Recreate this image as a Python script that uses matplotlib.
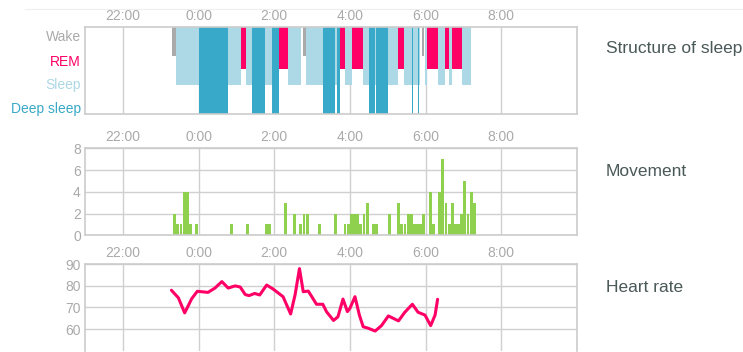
import matplotlib
matplotlib.use("Agg")
import matplotlib.pyplot as plt
from matplotlib.lines import Line2D

plt.rcParams['font.family'] = ['Liberation Sans', 'DejaVu Sans']

# time axis (hours after midnight)
hour_ticks = [-2, 0, 2, 4, 6, 8]
hour_labels = ['22:00', '0:00', '2:00', '4:00', '6:00', '8:00']

stage_names = ['Wake', 'REM', 'Sleep', 'Deep sleep']

# sleep structure segments
seg_start = ['23:18', '23:25', '0:00', '0:46', '1:07', '1:15', '1:25', '1:46', '1:57', '2:08',
             '2:22', '2:46', '2:50', '3:17', '3:37', '3:39', '3:45', '3:52', '4:03', '4:20',
             '4:31', '4:40', '4:42', '5:01', '5:16', '5:25', '5:39', '5:48', '5:55', '5:59',
             '6:02', '6:19', '6:31', '6:37', '6:42', '6:57']
seg_end = ['23:25', '0:00', '0:46', '1:07', '1:15', '1:25', '1:46', '1:57', '2:08', '2:22',
           '2:43', '2:50', '3:17', '3:37', '3:39', '3:45', '3:52', '4:03', '4:20', '4:31',
           '4:40', '4:42', '5:01', '5:16', '5:25', '5:51', '5:40', '5:49', '5:58', '6:02',
           '6:19', '6:30', '6:37', '6:42', '6:57', '7:12']
seg_stage = ['Wake', 'Sleep', 'Deep sleep', 'Sleep', 'REM', 'Sleep', 'Deep sleep', 'Sleep', 'Deep sleep', 'REM',
             'Sleep', 'Wake', 'Sleep', 'Deep sleep', 'Sleep', 'Deep sleep', 'REM', 'Sleep', 'REM', 'Sleep',
             'Deep sleep', 'Sleep', 'Deep sleep', 'Sleep', 'REM', 'Sleep', 'Deep sleep', 'Deep sleep', 'Wake', 'Sleep',
             'REM', 'Sleep', 'REM', 'Sleep', 'REM', 'Sleep']

# movement, 5 minute bins
move_times = ['23:20', '23:25', '23:30', '23:35', '23:40', '23:45', '23:55', '0:50', '1:15', '1:45',
              '1:50', '2:15', '2:30', '2:40', '2:45', '2:50', '3:10', '3:35', '3:50', '3:55',
              '4:00', '4:05', '4:10', '4:15', '4:20', '4:25', '4:35', '4:40', '5:00', '5:15',
              '5:20', '5:25', '5:30', '5:35', '5:40', '5:45', '5:50', '5:55', '6:05', '6:10',
              '6:20', '6:25', '6:30', '6:35', '6:40', '6:45', '6:50', '6:55', '7:00', '7:05',
              '7:10', '7:15']
move_values = [2, 1, 1, 4, 4, 1, 1, 1, 1, 1,
               1, 3, 2, 1, 2, 2, 1, 2, 1, 1,
               2, 2, 2, 1, 2, 3, 1, 1, 2, 3,
               1, 1, 2, 2, 1, 1, 1, 2, 4, 1,
               4, 7, 3, 1, 3, 1, 1, 2, 5, 2,
               4, 3]
move_ticks = [0, 2, 4, 6, 8]

# heart rate
hr_times = ['23:17', '23:28', '23:38', '23:44', '23:49', '23:58', '0:15', '0:26', '0:37', '0:47',
            '0:58', '1:06', '1:14', '1:20', '1:29', '1:37', '1:48', '1:58', '2:14', '2:26',
            '2:33', '2:40', '2:46', '2:54', '3:07', '3:17', '3:23', '3:34', '3:41', '3:49',
            '3:56', '4:00', '4:08', '4:15', '4:21', '4:29', '4:40', '4:50', '5:01', '5:17',
            '5:27', '5:39', '5:48', '5:59', '6:08', '6:15', '6:19']
hr_values = [78, 74.5, 67.5, 71, 74, 77.5, 77, 79, 82, 79,
             80, 79.5, 76, 75.5, 76.5, 75.8, 80.4, 78.6, 75, 67,
             75.8, 88, 77.3, 77.6, 71.5, 71.5, 68, 64, 65.7, 73.9,
             68.1, 69.6, 75, 66.5, 61.1, 60.4, 59.1, 61.6, 66.1, 63.8,
             67.8, 71.5, 67.8, 66.5, 61.6, 66.5, 73.8]
hr_ticks = [60, 70, 80, 90]


def clock(s):
    h, m = s.split(':')
    v = int(h) + int(m) / 60
    return v - 24 if v > 12 else v


W, H = 743, 352


def box(left, top, right, bottom):
    return [left / W, 1 - bottom / H, (right - left) / W, (bottom - top) / H]


stage_color = {'Wake': '#aaaaaa', 'REM': '#ff0066', 'Sleep': '#add8e6', 'Deep sleep': '#38a9c8'}
stage_depth = {'Wake': 0.333, 'REM': 0.48, 'Sleep': 0.667, 'Deep sleep': 1.0}
stage_label_y = [0.10, 0.39, 0.655, 0.92]
grid_c = '#d0d0d0'
tick_c = '#aaaaaa'
title_c = '#4a5858'

fig = plt.figure(figsize=(W / 100, H / 100), dpi=100)
fig.add_artist(Line2D([25 / W, 1], [1 - 9 / H, 1 - 9 / H], color='#eeeeee', lw=0.8))

ax1 = fig.add_axes(box(85, 27, 577, 114))
ax2 = fig.add_axes(box(85, 148.3, 577, 235.3))
ax3 = fig.add_axes(box(85, 264.3, 577, 350.7))

# structure of sleep
for s, e, st in zip(seg_start, seg_end, seg_stage):
    x0, x1 = clock(s), clock(e)
    ax1.bar(x0, stage_depth[st], width=x1 - x0, bottom=0, align='edge',
            color=stage_color[st], linewidth=0)
ax1.set_ylim(1, 0)
ax1.set_yticks(stage_label_y)
ax1.set_yticklabels(stage_names)
ax1.grid(axis='x', color=grid_c, lw=1)

# movement
ax2.bar([clock(t) for t in move_times], move_values, width=5 / 60 * 0.9, align='edge',
        color='#8fd14f', linewidth=0)
ax2.set_ylim(0, 8)
ax2.set_yticks(move_ticks)
ax2.grid(color=grid_c, lw=1)

# heart rate
ax3.plot([clock(t) for t in hr_times], hr_values, color='#ff0066', lw=2.2,
         solid_joinstyle='round', solid_capstyle='round')
ax3.set_ylim(50, 90)
ax3.set_yticks(hr_ticks)
ax3.grid(color=grid_c, lw=1)
ax3.spines['bottom'].set_visible(False)

for ax in (ax1, ax2, ax3):
    ax.set_xlim(-3, 10)
    ax.set_xticks(hour_ticks)
    ax.set_xticklabels(hour_labels)
    ax.xaxis.tick_top()
    ax.set_axisbelow(True)
    ax.tick_params(axis='both', length=0, labelsize=10, colors=tick_c)
    ax.tick_params(axis='x', pad=3)
    ax.tick_params(axis='y', pad=3)
    for sp in ax.spines.values():
        sp.set_color('#cccccc')
        sp.set_linewidth(1.2)
for lab, name in zip(ax1.get_yticklabels(), stage_names):
    lab.set_color(stage_color[name])

fig.text(606 / W, 1 - 49 / H, 'Structure of sleep', va='center', ha='left', fontsize=12.5, color=title_c)
fig.text(606 / W, 1 - 171 / H, 'Movement', va='center', ha='left', fontsize=12.5, color=title_c)
fig.text(606 / W, 1 - 287 / H, 'Heart rate', va='center', ha='left', fontsize=12.5, color=title_c)

fig.savefig('out.png', dpi=100, facecolor='white')
